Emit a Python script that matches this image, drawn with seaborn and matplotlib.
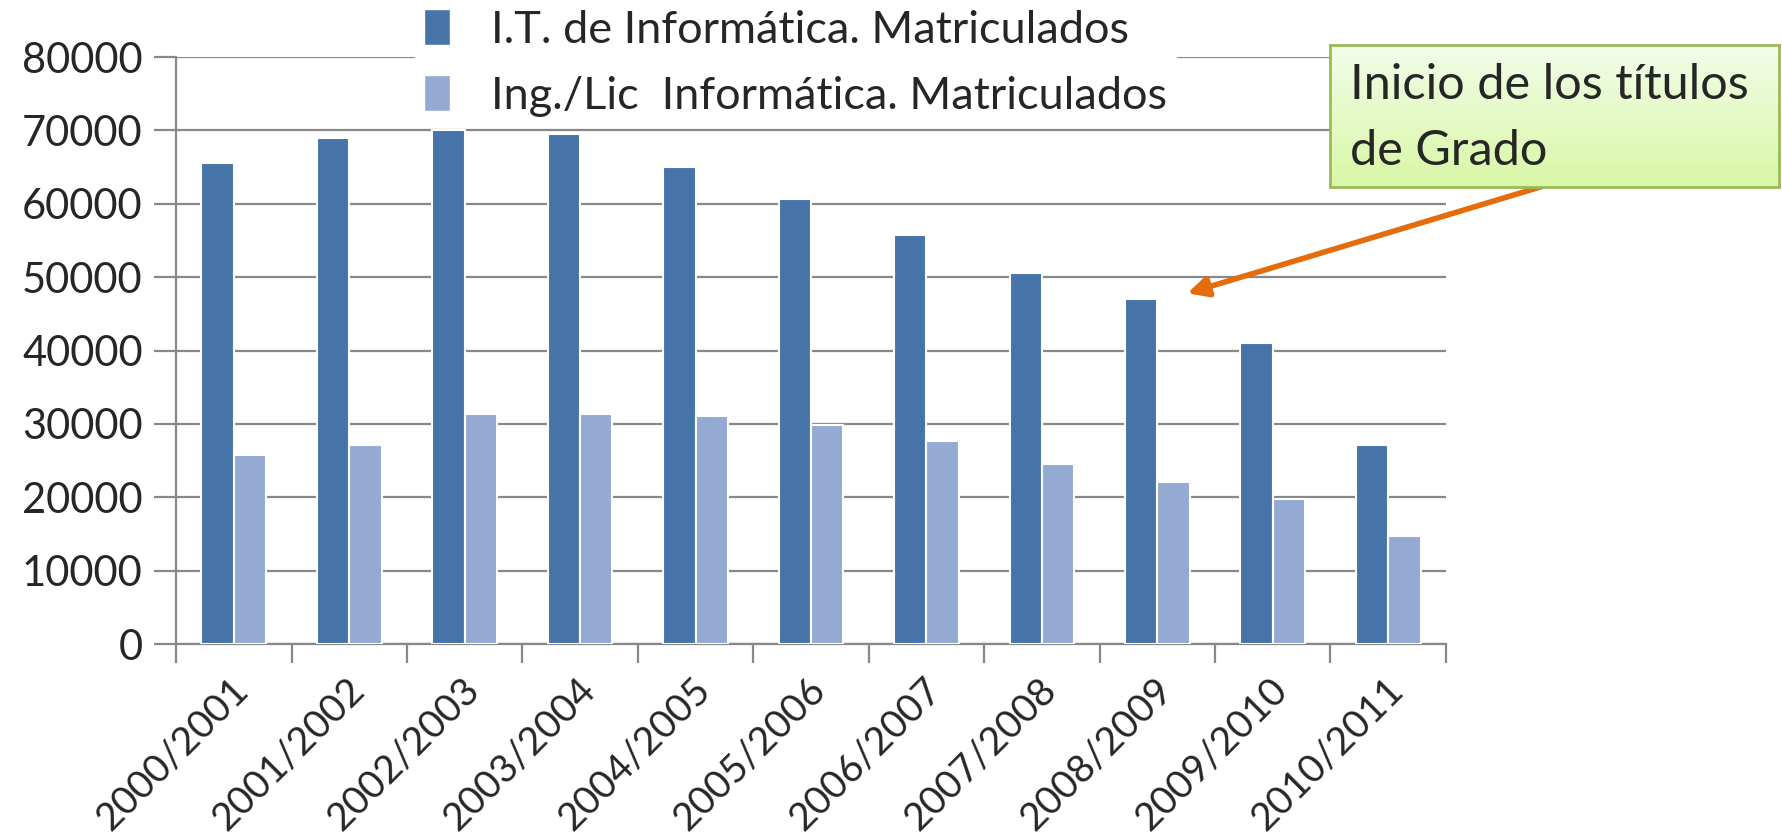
import numpy as np
import pandas as pd
import seaborn as sns
from matplotlib import pyplot as plt
from matplotlib import transforms
from matplotlib.colors import LinearSegmentedColormap
from matplotlib.patches import Patch
from matplotlib.ticker import FixedLocator

sns.set_theme(style='white')
plt.rcParams['font.family'] = ['Lato', 'DejaVu Sans']

cursos = ['2000/2001', '2001/2002', '2002/2003', '2003/2004', '2004/2005', '2005/2006',
          '2006/2007', '2007/2008', '2008/2009', '2009/2010', '2010/2011']
it_informatica = [65600, 69000, 70100, 69500, 65000, 60700, 55700, 50600, 47000, 41000, 27100]
ing_lic_informatica = [25700, 27100, 31300, 31400, 31100, 29900, 27700, 24600, 22100, 19800, 14700]
series = ['I.T. de Informática. Matriculados', 'Ing./Lic  Informática. Matriculados']
colors = ['#4674A8', '#95AAD3']

df = pd.DataFrame({
    'curso': cursos * 2,
    'matriculados': it_informatica + ing_lic_informatica,
    'serie': [series[0]] * len(cursos) + [series[1]] * len(cursos),
})

grid_color = '#888888'

fig = plt.figure(figsize=(17.82, 8.35), dpi=100)
ax = fig.add_axes([0.0988, 0.2287, 0.7126, 0.7030])

sns.barplot(data=df, x='curso', y='matriculados', hue='serie', palette=colors,
            saturation=1, width=0.56, edgecolor='white', linewidth=1.5,
            legend=False, ax=ax, zorder=3)

ax.set_ylim(0, 80000)
ax.set_xlim(-0.5, len(cursos) - 0.5)
ax.set_yticks(np.arange(0, 80001, 10000))
ax.set_yticklabels([str(v) for v in range(0, 80001, 10000)], fontsize=30)
ax.yaxis.grid(True, color=grid_color, linewidth=1.6, zorder=0)
ax.set_axisbelow(True)
ax.tick_params(axis='y', length=16, width=1.6, color=grid_color, pad=8, left=True)

ax.set_xticks(range(len(cursos)))
ax.set_xticklabels(cursos, fontsize=28, rotation=45, ha='right', rotation_mode='anchor')
ax.tick_params(axis='x', which='major', length=0, pad=20)
ax.xaxis.set_minor_locator(FixedLocator(np.arange(-0.5, len(cursos), 1.0)))
ax.tick_params(axis='x', which='minor', length=14, width=1.6, color=grid_color, bottom=True)
shift = transforms.ScaledTranslation(-0.04, 0, fig.dpi_scale_trans)
for lab in ax.get_xticklabels():
    lab.set_transform(lab.get_transform() + shift)
ax.set_xlabel('')
ax.set_ylabel('')

for side in ['top', 'right']:
    ax.spines[side].set_visible(False)
for side in ['left', 'bottom']:
    ax.spines[side].set_color(grid_color)
    ax.spines[side].set_linewidth(1.6)

handles = [Patch(facecolor=c, edgecolor='white') for c in colors]
leg = fig.legend(handles, series, loc='upper left', bbox_to_anchor=(0.233, 1.0),
                 fontsize=32.5, frameon=True, fancybox=False, framealpha=1,
                 handlelength=0.58, handleheight=0.85, handletextpad=0.9,
                 labelspacing=0.55, borderpad=0.2, borderaxespad=0)
leg.get_frame().set_facecolor('white')
leg.get_frame().set_edgecolor('white')
leg.set_zorder(10)

ax.annotate('', xy=(8.26, 47800), xytext=(0.8705, 0.78), textcoords='figure fraction',
            arrowprops=dict(arrowstyle='-|>', color='#E46C0A', lw=4,
                            mutation_scale=30, shrinkA=0, shrinkB=0),
            annotation_clip=False, zorder=5)

# callout box with a soft green gradient
bax = fig.add_axes([0.7462, 0.7755, 0.2519, 0.1701])
green = LinearSegmentedColormap.from_list('callout', ['#F3FDE9', '#D8F7A6'])
bax.imshow(np.linspace(0, 1, 64).reshape(-1, 1), aspect='auto', cmap=green,
           extent=[0, 1, 0, 1])
bax.set_xticks([])
bax.set_yticks([])
for sp in bax.spines.values():
    sp.set_color('#9BBB59')
    sp.set_linewidth(2)
bax.text(0.045, 0.72, 'Inicio de los títulos', fontsize=35, ha='left', va='center',
         transform=bax.transAxes)
bax.text(0.045, 0.255, 'de Grado', fontsize=35, ha='left', va='center',
         transform=bax.transAxes)

fig.savefig('out.png', dpi=100)
